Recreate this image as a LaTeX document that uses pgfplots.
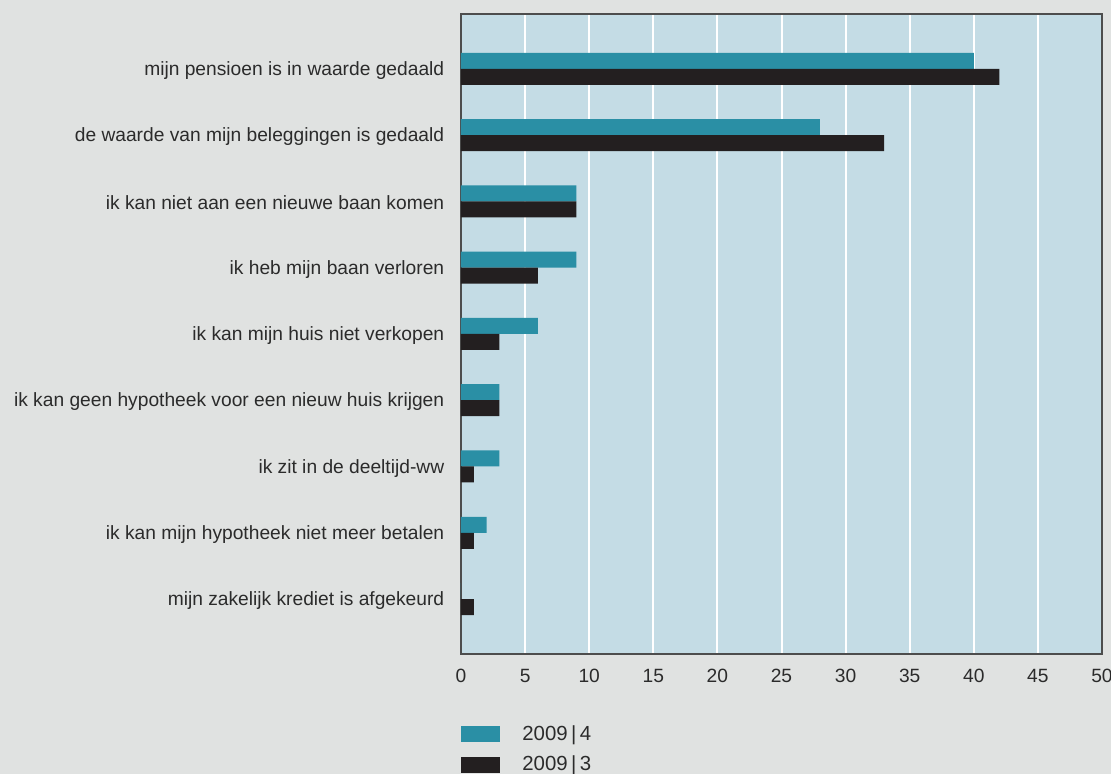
\documentclass[border=0pt]{standalone}
\usepackage{fontspec}
\setmainfont{Liberation Sans}
\usepackage{pgfplots}
\pgfplotsset{compat=1.18}
\definecolor{bggrey}{HTML}{E0E2E1}
\definecolor{axbg}{HTML}{C4DCE5}
\definecolor{teal4}{HTML}{2A8FA5}
\definecolor{dark3}{HTML}{231F20}
\definecolor{frame}{HTML}{4D4D4D}
\definecolor{txt}{HTML}{2B2B2B}
\begin{document}
\fontsize{9.6}{11.5}\selectfont
\begin{tikzpicture}
\fill[bggrey] (-230.5pt,-60pt) rectangle (325pt,327pt);
\begin{axis}[
  scale only axis, width=320.5pt, height=320pt,
  xmin=0, xmax=50, ymin=-0.83, ymax=8.83,
  xbar, bar width=8pt,
  axis background/.style={fill=axbg},
  axis line style={frame, line width=0.75pt},
  xtick={0,5,...,50},
  ytick={0,...,8},
  yticklabels={mijn zakelijk krediet is afgekeurd,
    ik kan mijn hypotheek niet meer betalen,
    ik zit in de deeltijd-ww,
    ik kan geen hypotheek voor een nieuw huis krijgen,
    ik kan mijn huis niet verkopen,
    ik heb mijn baan verloren,
    ik kan niet aan een nieuwe baan komen,
    de waarde van mijn beleggingen is gedaald,
    mijn pensioen is in waarde gedaald},
  major tick length=0pt,
  xmajorgrids, grid style={white, line width=1pt},
  /pgf/number format/assume math mode=true,
  tick label style={text=txt, font=\fontsize{9.6}{11.5}\selectfont},
  yticklabel style={anchor=east, xshift=-5pt, yshift=-0.8pt},
  xticklabel style={yshift=-4pt},
  legend style={draw=none, fill=none, at={(rel axis cs:0,0)}, anchor=north west,
    yshift=-33.5pt, inner sep=0pt, font=\fontsize{10.2}{12}\selectfont, text=txt,
    row sep=2.5pt, /tikz/every odd column/.append style={column sep=9pt}},
  legend cell align=left,
  legend image code/.code={\fill[#1] (0pt,-4pt) rectangle (19.5pt,4pt);},
]
\addplot[fill=teal4, draw=none, bar shift=4pt] coordinates {
 (0,0) (2,1) (3,2) (3,3) (6,4) (9,5) (9,6) (28,7) (40,8)};
\addlegendentry{2009\,|\,4}
\addplot[fill=dark3, draw=none, bar shift=-4pt] coordinates {
 (1,0) (1,1) (1,2) (3,3) (3,4) (6,5) (9,6) (33,7) (42,8)};
\addlegendentry{2009\,|\,3}
\end{axis}
\pgfresetboundingbox
\path[use as bounding box] (-230.5pt,-60pt) rectangle (325pt,327pt);
\end{tikzpicture}
\end{document}
